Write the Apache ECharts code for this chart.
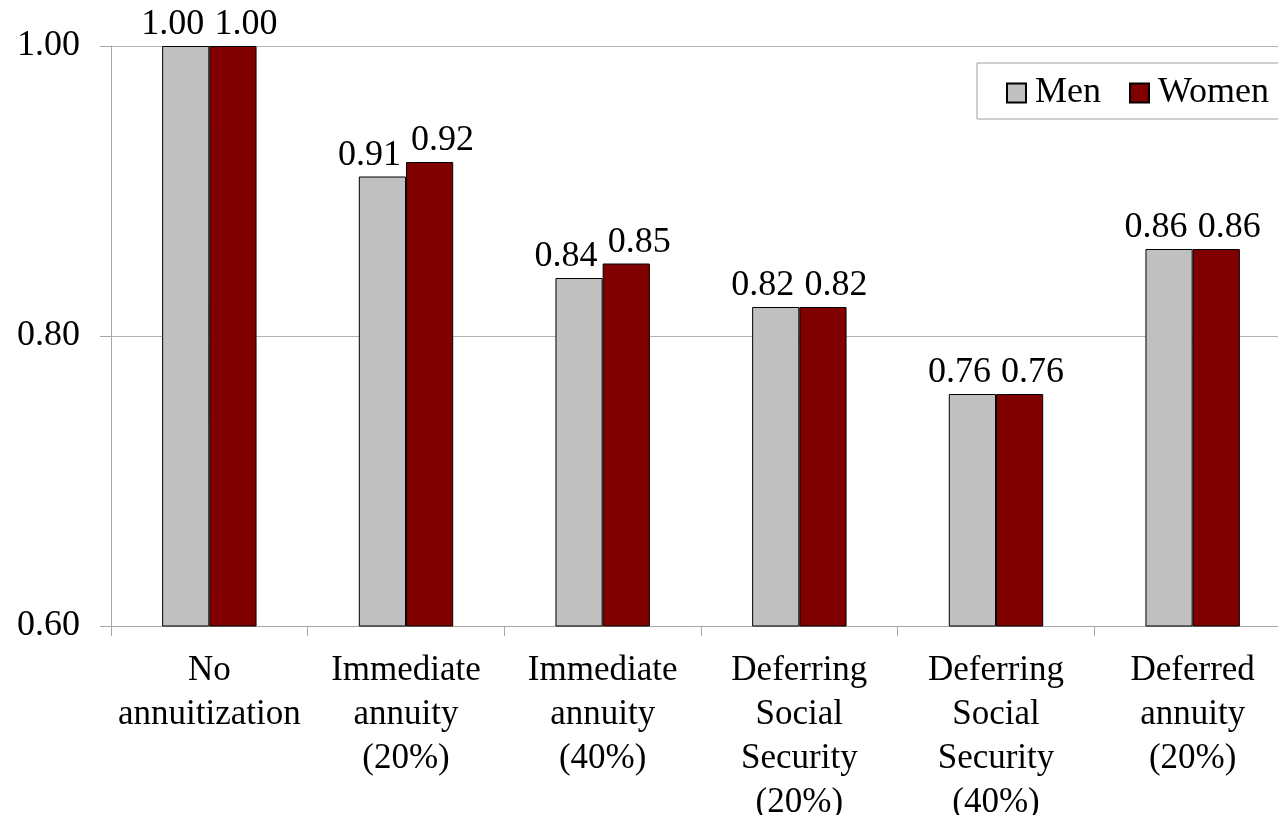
<!DOCTYPE html>
<html>
<head>
<meta charset="utf-8">
<script src="https://cdn.jsdelivr.net/npm/echarts@6/dist/echarts.min.js"></script>
<style>
  html, body { margin: 0; padding: 0; background: #fff; }
  #chart { width: 1278px; height: 815px; }
</style>
</head>
<body>
<div id="chart"></div>
<script>
// Relative outcome by retirement strategy, men vs women
const categories = [
  'No\nannuitization',
  'Immediate\nannuity\n(20%)',
  'Immediate\nannuity\n(40%)',
  'Deferring\nSocial\nSecurity\n(20%)',
  'Deferring\nSocial\nSecurity\n(40%)',
  'Deferred\nannuity\n(20%)'
];
const menValues = [1.00, 0.91, 0.84, 0.82, 0.76, 0.86];
const womenValues = [1.00, 0.92, 0.85, 0.82, 0.76, 0.86];
const yTicks = { min: 0.6, max: 1.0, interval: 0.2 };

const FONT = '"Liberation Serif", "Times New Roman", serif';
const chart = echarts.init(document.getElementById('chart'), null, { renderer: 'canvas' });

const barLabel = (dx) => ({
  show: true,
  position: 'top',
  distance: 3,
  offset: [dx, 0],
  fontFamily: FONT,
  fontSize: 36,
  color: '#000',
  formatter: (p) => p.value.toFixed(2)
});

chart.setOption({
  animation: false,
  backgroundColor: '#fff',
  grid: { left: 111, right: -13, top: 46, bottom: 189, containLabel: false, outerBoundsMode: 'none' },
  legend: {
    left: 977,
    top: 63,
    width: 290,
    orient: 'horizontal',
    icon: 'rect',
    itemWidth: 19,
    itemHeight: 19,
    itemGap: 28,
    padding: [12, 20, 8, 29],
    backgroundColor: '#fff',
    borderColor: '#a0a0a0',
    borderWidth: 1,
    borderRadius: 0,
    textStyle: { fontFamily: FONT, fontSize: 36, color: '#000', lineHeight: 36, padding: [0, 0, 0, 4] },
    data: ['Men', 'Women']
  },
  xAxis: {
    type: 'category',
    data: categories,
    boundaryGap: true,
    axisLine: { show: true, lineStyle: { color: '#a6a6a6', width: 1 } },
    axisTick: { show: true, length: 10, lineStyle: { color: '#a6a6a6' } },
    axisLabel: {
      interval: 0,
      margin: 23,
      fontFamily: FONT,
      fontSize: 35,
      lineHeight: 44,
      color: '#000'
    }
  },
  yAxis: {
    type: 'value',
    min: yTicks.min,
    max: yTicks.max,
    interval: yTicks.interval,
    axisLine: { show: true, lineStyle: { color: '#a6a6a6', width: 1 } },
    axisTick: { show: true, length: 11, lineStyle: { color: '#a6a6a6' } },
    splitLine: { show: true, lineStyle: { color: '#b3b3b3', width: 1 } },
    axisLabel: {
      margin: 31,
      fontFamily: FONT,
      fontSize: 36,
      color: '#000',
      formatter: (v) => v.toFixed(2)
    }
  },
  series: [
    {
      name: 'Men',
      type: 'bar',
      data: menValues,
      barGap: '0%',
      barCategoryGap: '52%',
      itemStyle: { color: '#c0c0c0', borderColor: '#000', borderWidth: 1 },
      label: barLabel(-13)
    },
    {
      name: 'Women',
      type: 'bar',
      data: womenValues,
      barGap: '0%',
      barCategoryGap: '52%',
      itemStyle: { color: '#800000', borderColor: '#000', borderWidth: 1 },
      label: barLabel(13)
    }
  ]
});
</script>
</body>
</html>
